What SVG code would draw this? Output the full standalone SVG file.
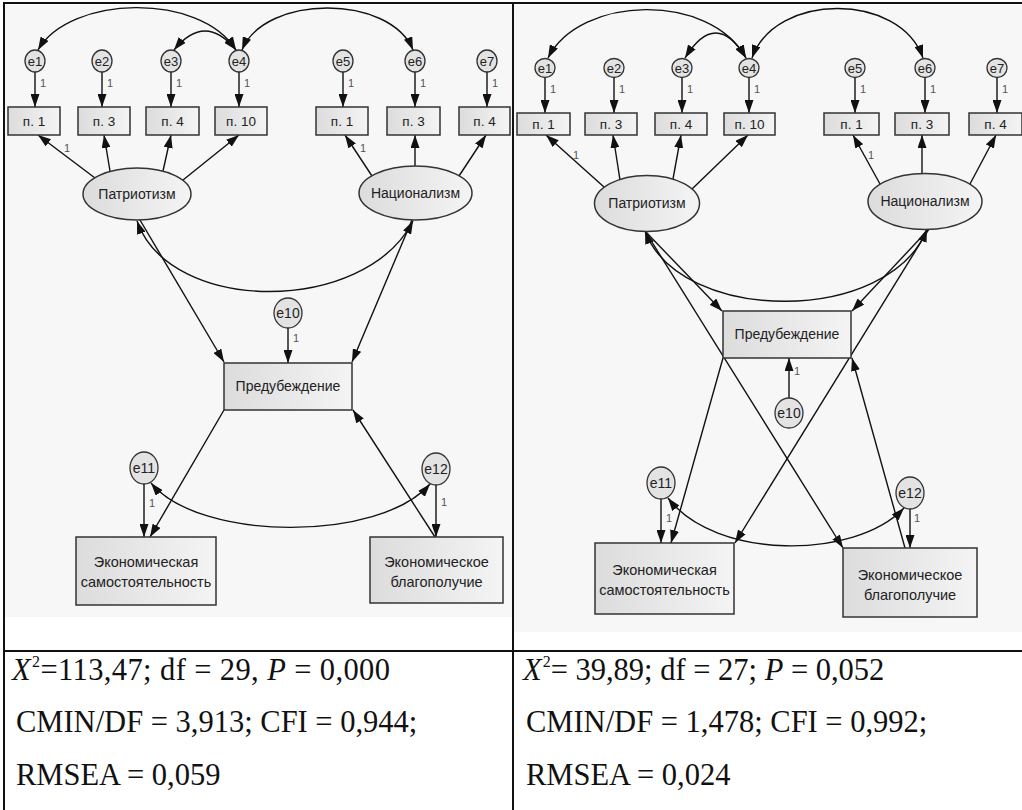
<svg xmlns="http://www.w3.org/2000/svg" width="1022" height="810" viewBox="0 0 1022 810">
<style>
.bg{fill:#f7f7f7}
.box{fill:url(#gb);stroke:#333;stroke-width:1.5}
.lat{fill:url(#gb);stroke:#333;stroke-width:1.5}
.err{fill:#e3e3e3;stroke:#333;stroke-width:1.3}
.t{font-family:'Liberation Sans',Arial,sans-serif;fill:#222;text-anchor:middle}
.s12{font-size:13px}
.s13{font-size:13.5px}
.s14{font-size:14px}
.s145{font-size:14.5px}
.w{font-family:'Liberation Sans',Arial,sans-serif;font-size:11px;fill:#555}
.c{stroke:#111;stroke-width:1.4;fill:none}
.a{marker-end:url(#ah)}
.d{marker-start:url(#ah);marker-end:url(#ah)}
.st{font-family:'Liberation Serif','Times New Roman',serif;font-size:30.5px;fill:#111}
.tb{stroke:#111;stroke-width:2;fill:none}
</style>
<defs>
<linearGradient id="gb" x1="0" y1="0" x2="1" y2="0">
<stop offset="0" stop-color="#dcdcdc"/>
<stop offset="1" stop-color="#f4f4f4"/>
</linearGradient>
<marker id="ah" viewBox="0 0 13 9" refX="13" refY="4.5" markerWidth="13" markerHeight="9" markerUnits="userSpaceOnUse" orient="auto-start-reverse">
<path d="M0,0 L13,4.5 L0,9 z" fill="#111"/>
</marker>
</defs>

<rect x="0" y="0" width="1022" height="810" fill="#ffffff"/>
<rect class="bg" x="5" y="5" width="507" height="612"/>
<rect class="bg" x="514" y="5" width="508" height="627"/>

<!-- LEFT connectors -->
<g id="connectors-left">
<line class="c a" x1="35" y1="72" x2="35" y2="107"/>
<line class="c a" x1="102" y1="72" x2="102" y2="107"/>
<line class="c a" x1="171" y1="72" x2="171" y2="107"/>
<line class="c a" x1="239" y1="72" x2="239" y2="107"/>
<line class="c a" x1="343" y1="72" x2="343" y2="107"/>
<line class="c a" x1="415" y1="72" x2="415" y2="107"/>
<line class="c a" x1="487" y1="72" x2="487" y2="107"/>
<path class="c d" d="M38,50 C70,-5 200,-8 236,50"/>
<path class="c d" d="M174,50 Q205,12 236,50"/>
<path class="c d" d="M242,50 C265,-6 390,-6 413,50"/>
<line class="c a" x1="95" y1="178" x2="38" y2="135"/>
<line class="c a" x1="110" y1="171" x2="104" y2="135"/>
<line class="c a" x1="163" y1="171" x2="171" y2="135"/>
<line class="c a" x1="183" y1="180" x2="239" y2="135"/>
<line class="c a" x1="372" y1="176" x2="345" y2="135"/>
<line class="c a" x1="415" y1="166" x2="415" y2="135"/>
<line class="c a" x1="459" y1="176" x2="486" y2="135"/>
<path class="c d" d="M137,221 C170,315 365,315 413,221"/>
<line class="c a" x1="140" y1="220" x2="224" y2="362"/>
<line class="c a" x1="412" y1="220" x2="352" y2="362"/>
<line class="c a" x1="288" y1="328" x2="288" y2="363"/>
<line class="c a" x1="224" y1="410" x2="150" y2="537"/>
<line class="c a" x1="435" y1="537" x2="353" y2="410"/>
<line class="c a" x1="144" y1="484" x2="144" y2="537"/>
<line class="c a" x1="436" y1="485" x2="436" y2="537"/>
<path class="c d" d="M151,483 C200,542 380,542 430,484"/>
<text class="w" x="40" y="87">1</text>
<text class="w" x="107" y="87">1</text>
<text class="w" x="176" y="87">1</text>
<text class="w" x="244" y="87">1</text>
<text class="w" x="348" y="87">1</text>
<text class="w" x="420" y="87">1</text>
<text class="w" x="492" y="87">1</text>
<text class="w" x="64" y="152">1</text>
<text class="w" x="360" y="152">1</text>
<text class="w" x="293" y="342">1</text>
<text class="w" x="149" y="507">1</text>
<text class="w" x="441" y="506">1</text>
</g>

<!-- RIGHT connectors -->
<g id="connectors-right">
<line class="c a" x1="545" y1="77" x2="545" y2="113"/>
<line class="c a" x1="614" y1="77" x2="614" y2="113"/>
<line class="c a" x1="682" y1="77" x2="682" y2="113"/>
<line class="c a" x1="749" y1="77" x2="749" y2="113"/>
<line class="c a" x1="855" y1="77" x2="855" y2="113"/>
<line class="c a" x1="925" y1="77" x2="925" y2="113"/>
<line class="c a" x1="997" y1="77" x2="997" y2="113"/>
<path class="c d" d="M548,58 C580,-5 710,-8 746,58"/>
<path class="c d" d="M685,58 Q716,8 746,58"/>
<path class="c d" d="M752,58 C775,-8 900,-8 923,58"/>
<line class="c a" x1="604" y1="187" x2="546" y2="135"/>
<line class="c a" x1="620" y1="180" x2="613" y2="135"/>
<line class="c a" x1="673" y1="179" x2="681" y2="135"/>
<line class="c a" x1="692" y1="189" x2="748" y2="135"/>
<line class="c a" x1="880" y1="184" x2="853" y2="135"/>
<line class="c a" x1="922" y1="173" x2="922" y2="135"/>
<line class="c a" x1="970" y1="184" x2="996" y2="135"/>
<path class="c d" d="M645,231 C680,325 890,325 927,229"/>
<line class="c a" x1="645" y1="231" x2="722" y2="311"/>
<line class="c a" x1="929" y1="229" x2="852" y2="311"/>
<line class="c a" x1="645" y1="231" x2="843" y2="548"/>
<line class="c a" x1="929" y1="229" x2="735" y2="543"/>
<line class="c a" x1="723" y1="358" x2="671" y2="543"/>
<line class="c a" x1="905" y1="548" x2="852" y2="358"/>
<line class="c a" x1="789" y1="398" x2="789" y2="358"/>
<line class="c a" x1="661" y1="499" x2="661" y2="543"/>
<line class="c a" x1="910" y1="509" x2="910" y2="548"/>
<path class="c d" d="M668,498 C715,560 855,560 904,508"/>
<text class="w" x="550" y="93">1</text>
<text class="w" x="619" y="93">1</text>
<text class="w" x="687" y="93">1</text>
<text class="w" x="754" y="93">1</text>
<text class="w" x="860" y="93">1</text>
<text class="w" x="930" y="93">1</text>
<text class="w" x="1002" y="93">1</text>
<text class="w" x="573" y="159">1</text>
<text class="w" x="868" y="159">1</text>
<text class="w" x="794" y="375">1</text>
<text class="w" x="666" y="522">1</text>
<text class="w" x="914" y="522">1</text>
</g>

<!-- LEFT nodes -->
<g id="L-e1"><ellipse class="err" cx="35" cy="61" rx="10" ry="11"/><text class="t s12" x="35" y="65.5">e1</text></g>
<g id="L-e2"><ellipse class="err" cx="102" cy="61" rx="10" ry="11"/><text class="t s12" x="102" y="65.5">e2</text></g>
<g id="L-e3"><ellipse class="err" cx="171" cy="61" rx="10" ry="11"/><text class="t s12" x="171" y="65.5">e3</text></g>
<g id="L-e4"><ellipse class="err" cx="239" cy="61" rx="10" ry="11"/><text class="t s12" x="239" y="65.5">e4</text></g>
<g id="L-e5"><ellipse class="err" cx="343" cy="61" rx="10" ry="11"/><text class="t s12" x="343" y="65.5">e5</text></g>
<g id="L-e6"><ellipse class="err" cx="415" cy="61" rx="10" ry="11"/><text class="t s12" x="415" y="65.5">e6</text></g>
<g id="L-e7"><ellipse class="err" cx="487" cy="61" rx="10" ry="11"/><text class="t s12" x="487" y="65.5">e7</text></g>
<g id="L-p1"><rect class="box" x="8" y="107" width="52" height="28"/><text class="t s13" x="34" y="125.5">п. 1</text></g>
<g id="L-p3"><rect class="box" x="78" y="107" width="52" height="28"/><text class="t s13" x="104" y="125.5">п. 3</text></g>
<g id="L-p4"><rect class="box" x="146" y="107" width="53" height="28"/><text class="t s13" x="172.5" y="125.5">п. 4</text></g>
<g id="L-p10"><rect class="box" x="215" y="107" width="52" height="28"/><text class="t s13" x="241" y="125.5">п. 10</text></g>
<g id="L-n1"><rect class="box" x="316" y="107" width="52" height="28"/><text class="t s13" x="342" y="125.5">п. 1</text></g>
<g id="L-n3"><rect class="box" x="387" y="107" width="53" height="28"/><text class="t s13" x="413.5" y="125.5">п. 3</text></g>
<g id="L-n4"><rect class="box" x="459" y="107" width="51" height="28"/><text class="t s13" x="484.5" y="125.5">п. 4</text></g>
<g id="L-patr"><ellipse class="lat" cx="137" cy="194" rx="54" ry="26"/><text class="t s14" x="137" y="199">Патриотизм</text></g>
<g id="L-nac"><ellipse class="lat" cx="415.5" cy="193" rx="56.5" ry="27"/><text class="t s14" x="415.5" y="198">Национализм</text></g>
<g id="L-pred"><rect class="box" x="224" y="363" width="128" height="47"/><text class="t s14" x="288" y="391">Предубеждение</text></g>
<g id="L-e10"><ellipse class="err" cx="288" cy="313" rx="14" ry="15"/><text class="t s14" x="288" y="318">e10</text></g>
<g id="L-e11"><ellipse class="err" cx="144" cy="468" rx="14" ry="16"/><text class="t s14" x="144" y="473">e11</text></g>
<g id="L-e12"><ellipse class="err" cx="436" cy="469" rx="14" ry="16"/><text class="t s14" x="436" y="474">e12</text></g>
<g id="L-samo"><rect class="box" x="76" y="537" width="140" height="68"/><text class="t s145" x="146" y="567">Экономическая</text><text class="t s145" x="146" y="587">самостоятельность</text></g>
<g id="L-blag"><rect class="box" x="370" y="537" width="133" height="66"/><text class="t s145" x="436.5" y="567">Экономическое</text><text class="t s145" x="436.5" y="587">благополучие</text></g>

<!-- RIGHT nodes -->
<g id="R-e1"><ellipse class="err" cx="545" cy="68" rx="10" ry="9.5"/><text class="t s12" x="545" y="72.5">e1</text></g>
<g id="R-e2"><ellipse class="err" cx="614" cy="68" rx="10" ry="9.5"/><text class="t s12" x="614" y="72.5">e2</text></g>
<g id="R-e3"><ellipse class="err" cx="682" cy="68" rx="10" ry="9.5"/><text class="t s12" x="682" y="72.5">e3</text></g>
<g id="R-e4"><ellipse class="err" cx="749" cy="68" rx="10" ry="9.5"/><text class="t s12" x="749" y="72.5">e4</text></g>
<g id="R-e5"><ellipse class="err" cx="855" cy="68" rx="10" ry="9.5"/><text class="t s12" x="855" y="72.5">e5</text></g>
<g id="R-e6"><ellipse class="err" cx="925" cy="68" rx="10" ry="9.5"/><text class="t s12" x="925" y="72.5">e6</text></g>
<g id="R-e7"><ellipse class="err" cx="997" cy="68" rx="10" ry="9.5"/><text class="t s12" x="997" y="72.5">e7</text></g>
<g id="R-p1"><rect class="box" x="517" y="113" width="53" height="22"/><text class="t s13" x="543.5" y="128.5">п. 1</text></g>
<g id="R-p3"><rect class="box" x="585" y="113" width="52" height="22"/><text class="t s13" x="611" y="128.5">п. 3</text></g>
<g id="R-p4"><rect class="box" x="655" y="113" width="52" height="22"/><text class="t s13" x="681" y="128.5">п. 4</text></g>
<g id="R-p10"><rect class="box" x="724" y="113" width="51" height="22"/><text class="t s13" x="749.5" y="128.5">п. 10</text></g>
<g id="R-n1"><rect class="box" x="824" y="113" width="55" height="22"/><text class="t s13" x="851.5" y="128.5">п. 1</text></g>
<g id="R-n3"><rect class="box" x="895" y="113" width="54" height="22"/><text class="t s13" x="922" y="128.5">п. 3</text></g>
<g id="R-n4"><rect class="box" x="969" y="113" width="53" height="22"/><text class="t s13" x="995.5" y="128.5">п. 4</text></g>
<g id="R-patr"><ellipse class="lat" cx="647" cy="203.5" rx="52.5" ry="28"/><text class="t s14" x="647" y="208">Патриотизм</text></g>
<g id="R-nac"><ellipse class="lat" cx="925" cy="201.5" rx="57" ry="28"/><text class="t s14" x="925" y="206">Национализм</text></g>
<g id="R-pred"><rect class="box" x="723" y="311" width="128" height="47"/><text class="t s14" x="787" y="339">Предубеждение</text></g>
<g id="R-e10"><ellipse class="err" cx="789" cy="413" rx="14" ry="15"/><text class="t s14" x="789" y="418">e10</text></g>
<g id="R-e11"><ellipse class="err" cx="661" cy="483" rx="14" ry="16"/><text class="t s14" x="661" y="488">e11</text></g>
<g id="R-e12"><ellipse class="err" cx="910" cy="493" rx="14" ry="16"/><text class="t s14" x="910" y="498">e12</text></g>
<g id="R-samo"><rect class="box" x="595" y="543" width="139" height="71"/><text class="t s145" x="664.5" y="575">Экономическая</text><text class="t s145" x="664.5" y="595">самостоятельность</text></g>
<g id="R-blag"><rect class="box" x="843" y="548" width="134" height="69"/><text class="t s145" x="910" y="580">Экономическое</text><text class="t s145" x="910" y="600">благополучие</text></g>

<!-- table frame -->
<g id="table">
<line class="tb" x1="3" y1="3" x2="1022" y2="3"/>
<line class="tb" x1="4" y1="3" x2="4" y2="810"/>
<line class="tb" x1="513" y1="3" x2="513" y2="810"/>
<line class="tb" x1="4" y1="651" x2="1022" y2="651"/>
</g>

<!-- statistics -->
<g id="stats">
<text class="st" x="12" y="680" textLength="378" lengthAdjust="spacing"><tspan font-style="italic">X</tspan><tspan dx="1" dy="-13" font-size="16">2</tspan><tspan dy="13">=113,47; df = 29, </tspan><tspan font-style="italic">P</tspan><tspan> = 0,000</tspan></text>
<text class="st" x="16" y="732">CMIN/DF = 3,913; CFI = 0,944;</text>
<text class="st" x="16" y="785">RMSEA = 0,059</text>
<text class="st" x="523" y="680"><tspan font-style="italic">X</tspan><tspan dx="1" dy="-13" font-size="16">2</tspan><tspan dy="13">= 39,89; df = 27; </tspan><tspan font-style="italic">P</tspan><tspan> = 0,052</tspan></text>
<text class="st" x="526" y="732">CMIN/DF = 1,478; CFI = 0,992;</text>
<text class="st" x="526" y="785">RMSEA = 0,024</text>
</g>
</svg>
